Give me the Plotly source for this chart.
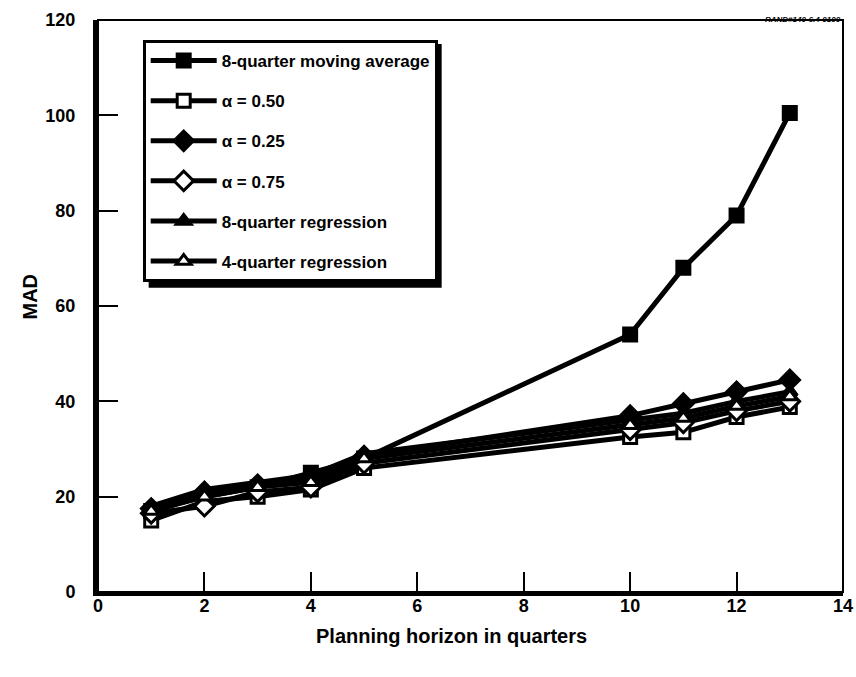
import plotly.graph_objects as go

# Planning horizon (quarters) and mean absolute deviation per forecasting method
horizon = [1, 2, 3, 4, 5, 10, 11, 12, 13]
moving_avg_8q = [17, 20, 22, 25, 28, 54, 68, 79, 100.5]
alpha_050 = [15, 19, 20, 21.5, 26, 32.5, 33.5, 36.7, 38.8]
alpha_025 = [17.5, 21, 22.5, 23.5, 28.5, 37, 39.5, 42, 44.5]
alpha_075 = [16.5, 18, 21, 22, 27, 34, 35.5, 38, 40]
regression_8q = [18, 21.5, 23, 24.5, 29, 36, 37.5, 40, 42]
regression_4q = [17, 20, 22, 23, 28, 35, 36.5, 39, 41]

x_ticks = [0, 2, 4, 6, 8, 10, 12, 14]
y_ticks = [0, 20, 40, 60, 80, 100, 120]

FONT = "Liberation Sans, Arial, Helvetica, sans-serif"

series = [
    ("8-quarter moving average", moving_avg_8q, "square", "black"),
    ("\u03b1 = 0.50", alpha_050, "square", "white"),
    ("\u03b1 = 0.25", alpha_025, "diamond", "black"),
    ("\u03b1 = 0.75", alpha_075, "diamond", "white"),
    ("8-quarter regression", regression_8q, "triangle-up", "black"),
    ("4-quarter regression", regression_4q, "triangle-up", "white"),
]

fig = go.Figure()
for i, (name, vals, sym, fill) in enumerate(series):
    fig.add_trace(go.Scatter(
        x=horizon, y=vals, name=name, mode="lines+markers",
        legendgroup=f"g{i}",
        line=dict(color="black", width=5),
        marker=dict(symbol=sym, size=13 if sym != "diamond" else 15,
                    color=fill, line=dict(color="black", width=3)),
    ))

tick_font = dict(family=FONT, size=18, color="black", weight="bold")
title_font = dict(family=FONT, size=20, color="black", weight="bold")

fig.update_layout(
    width=856, height=677,
    margin=dict(l=98, r=13, t=20, b=85),
    paper_bgcolor="white", plot_bgcolor="white",
    showlegend=True,
    legend=dict(
        x=0.06, y=0.965, xanchor="left", yanchor="top",
        bgcolor="white", bordercolor="black", borderwidth=3,
        font=dict(family=FONT, size=17, color="black", weight="bold"),
        tracegroupgap=15, itemwidth=66,
    ),
    xaxis=dict(
        range=[0, 14], tickvals=x_ticks, ticks="inside", ticklen=20,
        tickwidth=2, tickcolor="black", showgrid=False, zeroline=False,
        showline=True, linecolor="black", linewidth=4, automargin=False,
        tickfont=tick_font, ticklabelstandoff=-6,
    ),
    yaxis=dict(
        range=[0, 120], tickvals=y_ticks, ticks="inside", ticklen=20,
        tickwidth=2, tickcolor="black", showgrid=False, zeroline=False,
        showline=True, linecolor="black", linewidth=5, automargin=False,
        tickfont=tick_font, ticklabelstandoff=14,
    ),
    shapes=[
        # thin frame around the plotting area
        dict(type="rect", xref="x domain", yref="y domain",
             x0=0, x1=1, y0=0, y1=1, line=dict(color="black", width=2),
             layer="below"),
        # drop shadow behind the legend box
        dict(type="rect", xref="paper", yref="paper",
             x0=0.068, x1=0.4613, y0=0.532, y1=0.958,
             fillcolor="black", line=dict(width=0), layer="above"),
    ],
    annotations=[
        dict(text="Planning horizon in quarters", xref="paper", yref="paper",
             x=0.474, y=-0.077, xanchor="center", yanchor="middle",
             showarrow=False, font=title_font),
        dict(text="MAD", xref="paper", yref="paper", textangle=-90,
             x=-0.091, y=0.517, xanchor="center", yanchor="middle",
             showarrow=False, font=title_font),
        dict(text="<i>RAND#140-6.4-0100</i>", xref="paper", yref="paper",
             x=1.0, y=1.0, xanchor="right", yanchor="bottom", yshift=-6,
             showarrow=False,
             font=dict(family=FONT, size=8, color="black", weight="bold")),
    ],
)

fig.write_html("out.html")
